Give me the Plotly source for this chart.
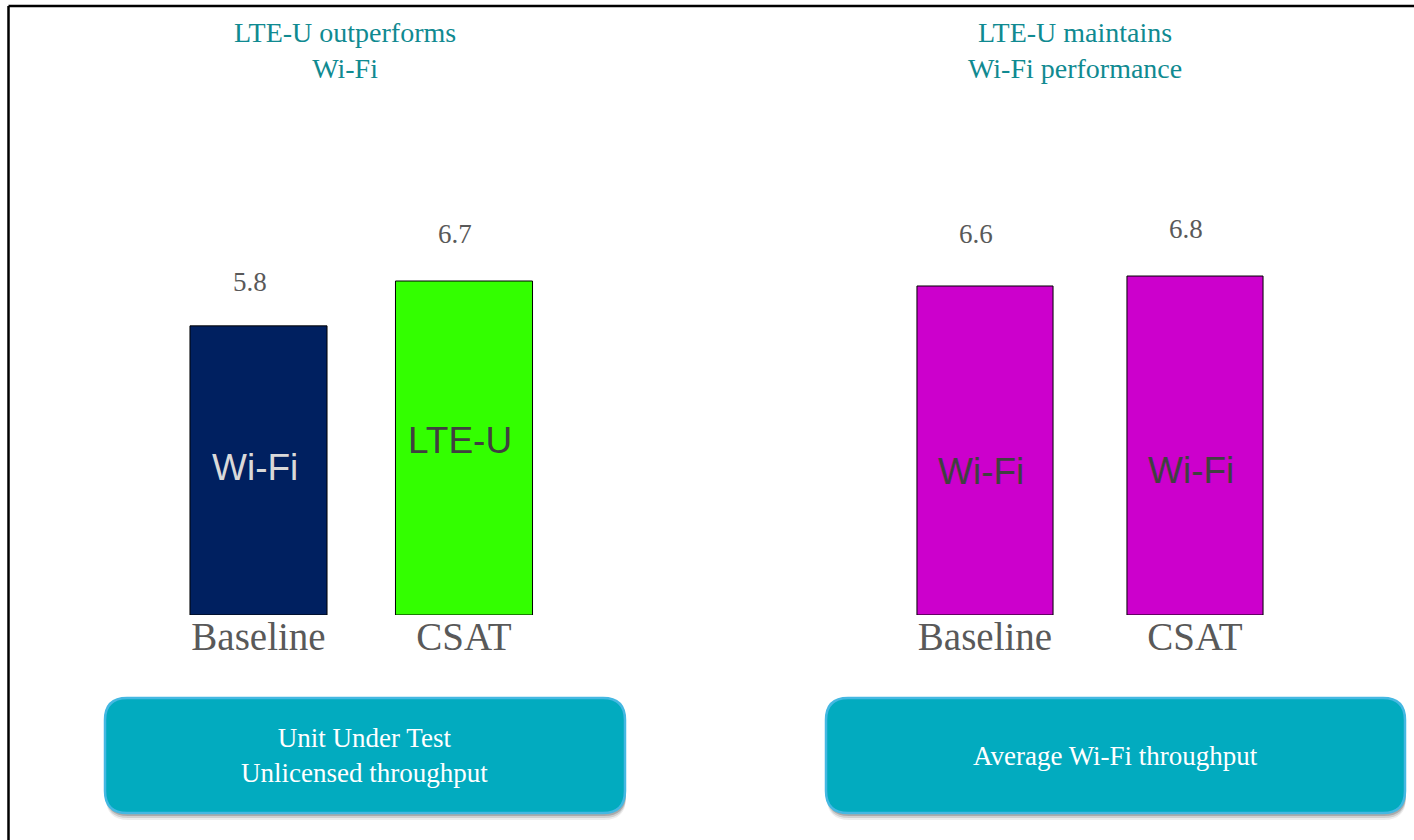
"""
LTE-U vs Wi-Fi throughput — two-panel bar comparison with caption boxes.
"""

import plotly.graph_objects as go

W, H = 1414, 840

groups = ["Baseline", "CSAT"]
uut_values = [5.8, 6.7]
wifi_values = [6.6, 6.8]
uut_bar_labels = ["Wi-Fi", "LTE-U"]
wifi_bar_labels = ["Wi-Fi", "Wi-Fi"]
panel_titles = ["LTE-U outperforms<br>Wi-Fi", "LTE-U maintains<br>Wi-Fi performance"]
box_texts = ["Unit Under Test<br>Unlicensed throughput", "Average Wi-Fi throughput"]

SERIF = "Liberation Serif, Times New Roman, serif"
SANS = "Liberation Sans, Arial, sans-serif"
GREY = "#595959"
TEAL = "#108A91"


def fx(x):
    return x / W


def fy(y):
    return 1 - y / H


def rounded_box(x0, y0, x1, y1, r):
    # pixel box -> svg path in paper coords, corners via quadratic curves
    pts = [
        ("M", [(x0 + r, y0)]),
        ("L", [(x1 - r, y0)]),
        ("Q", [(x1, y0), (x1, y0 + r)]),
        ("L", [(x1, y1 - r)]),
        ("Q", [(x1, y1), (x1 - r, y1)]),
        ("L", [(x0 + r, y1)]),
        ("Q", [(x0, y1), (x0, y1 - r)]),
        ("L", [(x0, y0 + r)]),
        ("Q", [(x0, y0), (x0 + r, y0)]),
    ]
    out = ""
    for cmd, coords in pts:
        out += cmd + " ".join(f"{fx(a):.5f},{fy(b):.5f}" for a, b in coords) + " "
    return out + "Z"


fig = go.Figure()

fig.add_trace(go.Bar(
    x=groups, y=uut_values, xaxis="x", yaxis="y",
    marker=dict(color=["#002060", "#33FF00"], line=dict(color="#000000", width=1)),
    width=0.667, hoverinfo="skip",
))
fig.add_trace(go.Bar(
    x=groups, y=wifi_values, xaxis="x2", yaxis="y2",
    marker=dict(color="#CC00CC", line=dict(color="#000000", width=1)),
    width=0.648, hoverinfo="skip",
))

annotations = []

# value labels above the bars (gap above bar differs a little per label)
value_sets = [
    ("x", "y", uut_values, [44, 47]),
    ("x2", "y2", wifi_values, [52, 47]),
]
for xr, yr, vals, gaps in value_sets:
    for g, v, gap in zip(groups, vals, gaps):
        annotations.append(dict(
            text=f"{v:.1f}", x=g, y=v, xref=xr, yref=yr,
            yanchor="middle", yshift=gap, xshift=-9, showarrow=False,
            font=dict(family=SERIF, size=27, color=GREY),
        ))

# labels inside the bars
inner = [
    ("x", "y", uut_values, uut_bar_labels, ["#D9D9D9", "#404040"], [3, 8]),
    ("x2", "y2", wifi_values, wifi_bar_labels, ["#404040", "#404040"], [-21, -25]),
]
for xr, yr, vals, labels, colors, shifts in inner:
    for g, v, lab, c, s in zip(groups, vals, labels, colors, shifts):
        annotations.append(dict(
            text=lab, x=g, y=v / 2, xref=xr, yref=yr, yanchor="middle",
            yshift=s, xshift=-4, showarrow=False,
            font=dict(family=SANS, size=37, color=c),
        ))

# panel headings
for t, cx in zip(panel_titles, [345, 1075]):
    annotations.append(dict(
        text=t, x=fx(cx), y=fy(50), xref="paper", yref="paper",
        xanchor="center", yanchor="middle", showarrow=False,
        font=dict(family=SERIF, size=28, color=TEAL),
    ))

# caption boxes
boxes = [(105, 698, 625, 813), (826, 698, 1405, 813)]
shapes = []
for (x0, y0, x1, y1), t in zip(boxes, box_texts):
    for k, op in [(7, 0.07), (5, 0.12), (3, 0.18)]:
        shapes.append(dict(
            type="path", xref="paper", yref="paper",
            path=rounded_box(x0 + 1, y0 + k, x1 + 1, y1 + k, 22),
            fillcolor=f"rgba(0,0,0,{op})", line=dict(width=0), layer="below",
        ))
    shapes.append(dict(
        type="path", xref="paper", yref="paper",
        path=rounded_box(x0, y0, x1, y1, 22),
        fillcolor="#02ABBF", line=dict(color="#45B8E2", width=2.5), layer="above",
    ))
    annotations.append(dict(
        text=t, x=fx((x0 + x1) / 2), y=fy((y0 + y1) / 2), xref="paper", yref="paper",
        xanchor="center", yanchor="middle", showarrow=False,
        font=dict(family=SERIF, size=27, color="#FFFFFF"),
    ))

# outer frame (left and top edges)
shapes.append(dict(type="line", xref="paper", yref="paper",
                   x0=fx(8.5), y0=fy(6), x1=fx(8.5), y1=0,
                   line=dict(color="#000000", width=2.5)))
shapes.append(dict(type="line", xref="paper", yref="paper",
                   x0=fx(8.5), y0=fy(6), x1=1, y1=fy(6),
                   line=dict(color="#000000", width=2.5)))

ymax = 615 / 49.85
xaxis_style = dict(
    range=[-0.5, 1.5], showgrid=False, zeroline=False, showline=False, ticks="",
    tickfont=dict(family=SERIF, size=39, color=GREY), ticklabelstandoff=-5,
    fixedrange=True,
)
yaxis_style = dict(range=[0, ymax], domain=[225 / H, 1], visible=False, fixedrange=True)

fig.update_layout(
    width=W, height=H,
    margin=dict(t=0, b=0, l=0, r=0),
    plot_bgcolor="white", paper_bgcolor="white",
    showlegend=False,
    xaxis=dict(domain=[fx(155.75), fx(566.75)], anchor="y", **xaxis_style),
    xaxis2=dict(domain=[fx(880), fx(1300)], anchor="y2", **xaxis_style),
    yaxis=dict(anchor="x", **yaxis_style),
    yaxis2=dict(anchor="x2", **yaxis_style),
    annotations=annotations,
    shapes=shapes,
)

# page body has a default 8px margin; drop it so the figure sits at the window origin
fig.write_html(
    "out.html",
    config={"displayModeBar": False},
    post_script="document.body.style.margin='0';",
)
